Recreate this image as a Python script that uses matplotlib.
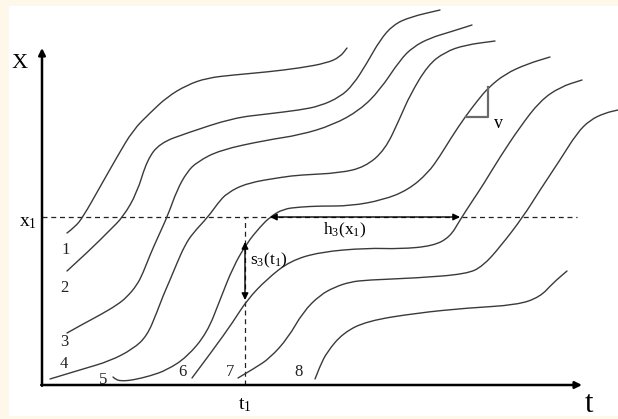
import matplotlib
matplotlib.use("Agg")
import matplotlib.pyplot as plt
from matplotlib.patches import Rectangle, PathPatch
from matplotlib.path import Path

plt.rcParams["font.family"] = ["Liberation Serif", "DejaVu Serif"]
plt.rcParams["mathtext.fontset"] = "custom"
plt.rcParams["mathtext.rm"] = "Liberation Serif"
plt.rcParams["mathtext.it"] = "Liberation Serif:italic"

# ---- trajectories (t, x) ----
t_1 = [25, 33, 41, 58, 75, 91, 108, 125, 145, 165, 191, 225, 258, 285, 298, 305]
x_1 = [152, 158, 168, 198, 228, 255, 272, 288, 300, 307, 310, 313, 317, 322, 328, 337]

t_2 = [25, 48, 68, 81, 95, 105, 118, 145, 191, 225, 258, 278, 298, 311, 325, 338, 351, 368, 398]
x_2 = [114, 135, 155, 168, 192, 225, 242, 252, 267, 271, 275, 279, 288, 300, 322, 345, 360, 368, 375]

t_3 = [25, 41, 58, 75, 85, 95, 101, 108, 116, 126, 135, 145, 155, 178, 225, 258, 291, 318, 338,
       358, 371, 388, 408, 430]
x_3 = [52, 61, 70, 80, 88, 100, 112, 130, 148, 170, 195, 213, 223, 235, 245, 250, 260, 275, 295,
       325, 338, 347, 353, 360]

t_4 = [8, 41, 68, 91, 105, 115, 121, 128, 135, 143, 151, 166, 176, 185, 205, 241, 258, 298, 323,
       343, 358, 368, 386, 403, 423, 453]
x_4 = [6, 16, 24, 36, 49, 73, 89, 105, 122, 140, 152, 168, 182, 192, 202, 208, 210, 212, 218,
       235, 267, 290, 320, 333, 340, 344]

t_5 = [71, 74, 81, 91, 108, 125, 145, 165, 178, 191, 205, 218, 228, 241, 258, 278, 308, 341, 366,
       386, 398, 409, 423, 436, 446, 463, 485, 508]
x_5 = [8, 5, 4, 5, 9, 15, 28, 52, 85, 118, 142, 158, 168, 176, 178, 179, 179, 185, 195,
       212, 229, 247, 268, 285, 297, 311, 321, 328]

t_6 = [150, 171, 191, 205, 225, 248, 278, 325, 358, 391, 408, 418, 431, 441, 458, 478, 498, 518, 540]
x_6 = [7, 35, 63, 85, 106, 124, 133, 137, 136, 139, 148, 165, 185, 200, 228, 258, 284, 298, 305]

t_7 = [196, 213, 228, 246, 261, 278, 293, 308, 325, 375, 425, 441, 458, 481, 498, 518, 535, 548, 563, 576]
x_7 = [7, 17, 27, 47, 73, 90, 98, 103, 105, 107, 111, 119, 138, 168, 195, 225, 252, 265, 272, 275]

t_8 = [273, 278, 285, 301, 325, 375, 425, 475, 498, 511, 525]
x_8 = [6, 19, 33, 52, 64, 72, 77, 80, 88, 102, 114]

traj_t = [t_1, t_2, t_3, t_4, t_5, t_6, t_7, t_8]
traj_x = [x_1, x_2, x_3, x_4, x_5, x_6, x_7, x_8]
traj_labels = ["1", "2", "3", "4", "5", "6", "7", "8"]
label_t = [24, 22, 22, 22, 61, 140, 188, 257]
label_x = [135, 97, 43, 21, 5, 13, 13, 13]

# reference levels
x1_level = 168
t1_level = 203
h3_from, h3_to = 228, 418
s3_top, s3_bottom = 143, 85
t_end, x_end = 540, 337


def smooth_path(tt, xx):
    # read points act as quadratic bezier control points -> smooth stroke
    verts = [(tt[0], xx[0])]
    codes = [Path.MOVETO]
    for i in range(1, len(tt) - 1):
        mid = ((tt[i] + tt[i + 1]) / 2, (xx[i] + xx[i + 1]) / 2)
        verts += [(tt[i], xx[i]), mid]
        codes += [Path.CURVE3, Path.CURVE3]
    verts.append((tt[-1], xx[-1]))
    codes.append(Path.LINETO)
    return Path(verts, codes)


fig = plt.figure(figsize=(6.18, 4.19), dpi=100, facecolor="#fdf8ea")
ax = fig.add_axes([0, 0, 1, 1])
ax.set_xlim(-42, 576)
ax.set_ylim(-34, 385)
ax.axis("off")
ax.add_patch(Rectangle((-33, -31), 620, 410, facecolor="white", edgecolor="none", zorder=0))

# trajectories
for tt, xx in zip(traj_t, traj_x):
    ax.add_patch(PathPatch(smooth_path(tt, xx), facecolor="none", edgecolor="#3a3a3a",
                           lw=1.0, capstyle="round", zorder=2))
for lab, lt, lx in zip(traj_labels, label_t, label_x):
    ax.text(lt, lx, lab, fontsize=12, ha="center", va="center", color="#222222")

# axes arrows
ax.annotate("", xy=(0, x_end), xytext=(0, -0.8),
            arrowprops=dict(arrowstyle="-|>", lw=1.8, color="black", mutation_scale=10,
                            shrinkA=0, shrinkB=0))
ax.annotate("", xy=(t_end, 0), xytext=(-0.8, 0),
            arrowprops=dict(arrowstyle="-|>", lw=1.8, color="black", mutation_scale=10,
                            shrinkA=0, shrinkB=0))
ax.text(-22, 322, "X", fontsize=16, ha="center", va="center")
ax.text(547, -19, "t", fontsize=22, ha="center", va="center")

# dashed reference lines
ax.plot([0, 535], [x1_level, x1_level], color="#222222", lw=0.9, ls=(0, (4, 3)), zorder=1)
ax.plot([t1_level, t1_level], [0, x1_level], color="#222222", lw=0.9, ls=(0, (4, 3)), zorder=1)
ax.text(-14, 163, r"$\mathrm{x}_1$", fontsize=14, ha="center", va="center")
ax.text(203, -20, r"$\mathrm{t}_1$", fontsize=14, ha="center", va="center")

# headway and spacing arrows
ax.annotate("", xy=(h3_from, x1_level), xytext=(h3_to, x1_level),
            arrowprops=dict(arrowstyle="<|-|>", lw=1.0, color="black", mutation_scale=10,
                            shrinkA=0, shrinkB=0), zorder=3)
ax.annotate("", xy=(t1_level, s3_top), xytext=(t1_level, s3_bottom),
            arrowprops=dict(arrowstyle="<|-|>", lw=1.0, color="black", mutation_scale=10,
                            shrinkA=0, shrinkB=0), zorder=3)
ax.text(303, 155, r"$\mathrm{h}_3(\mathrm{x}_1)$", fontsize=12.5, ha="center", va="center")
ax.text(208, 125, r"$\mathrm{s}_3(\mathrm{t}_1)$", fontsize=12.5, ha="left", va="center")

# speed triangle
ax.plot([424, 446, 446], [268, 268, 298], color="#6a6a6a", lw=1.6, zorder=2)
ax.text(457, 261, "v", fontsize=13, ha="center", va="center")

fig.savefig("out.png", dpi=100, facecolor=fig.get_facecolor())
